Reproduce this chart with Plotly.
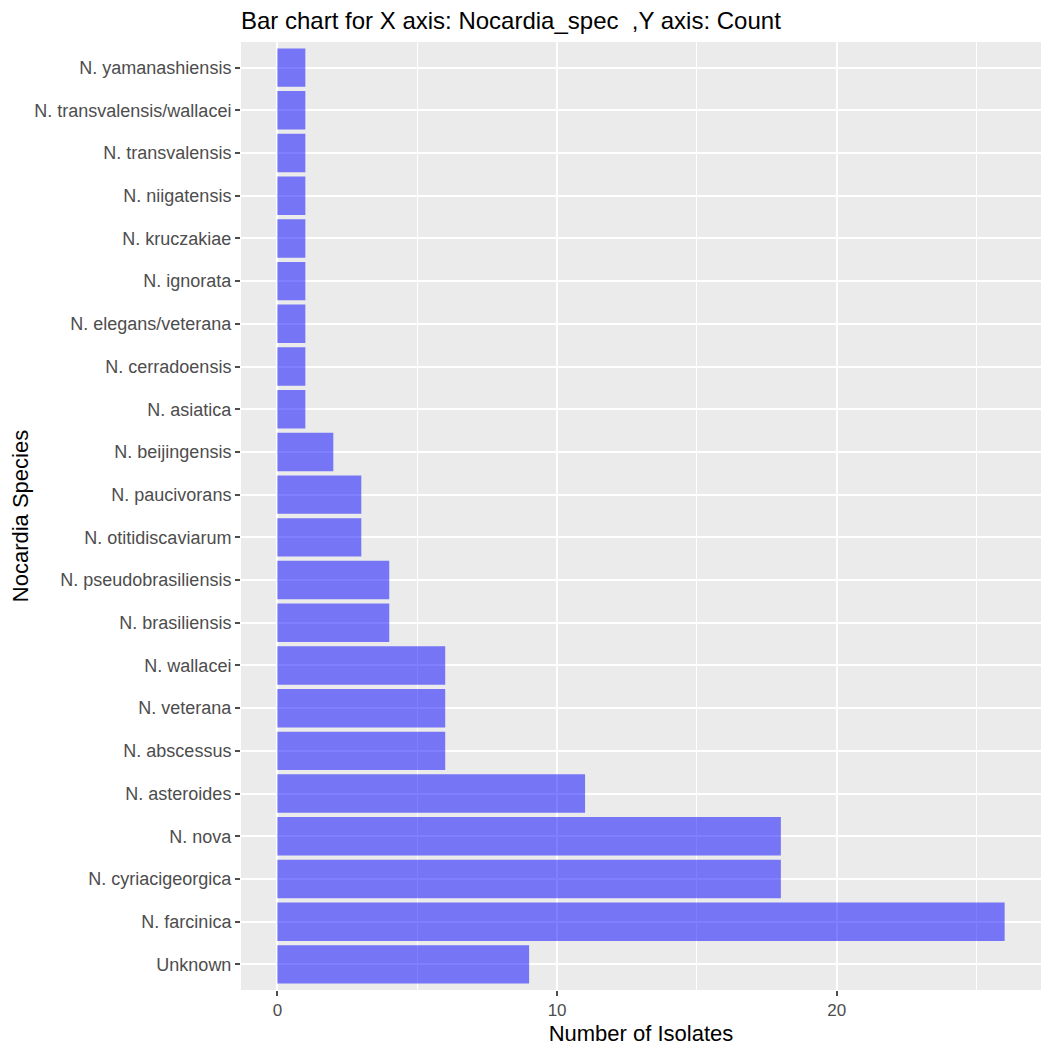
import plotly.graph_objects as go

species = ["Unknown", "N. farcinica", "N. cyriacigeorgica", "N. nova", "N. asteroides",
           "N. abscessus", "N. veterana", "N. wallacei", "N. brasiliensis",
           "N. pseudobrasiliensis", "N. otitidiscaviarum", "N. paucivorans",
           "N. beijingensis", "N. asiatica", "N. cerradoensis", "N. elegans/veterana",
           "N. ignorata", "N. kruczakiae", "N. niigatensis", "N. transvalensis",
           "N. transvalensis/wallacei", "N. yamanashiensis"]
counts = [9, 26, 18, 18, 11, 6, 6, 6, 4, 4, 3, 3, 2, 1, 1, 1, 1, 1, 1, 1, 1, 1]
x_ticks = [0, 10, 20]

FONT = "Liberation Sans, Arial, sans-serif"

fig = go.Figure(go.Bar(
    x=counts, y=species, orientation="h", width=0.9,
    marker=dict(color="rgba(0,0,255,0.5)", line=dict(width=0)),
))

fig.update_layout(
    width=1050, height=1050,
    margin=dict(l=233, r=17, t=34, b=68),
    paper_bgcolor="white", plot_bgcolor="#EBEBEB",
    font=dict(family=FONT, color="#4D4D4D", size=17),
    title=dict(text="Bar chart for X axis: Nocardia_spec  ,Y axis: Count",
               x=0, xref="paper", xanchor="left", y=1 - 13 / 1050, yref="container",
               yanchor="middle", font=dict(size=24, color="black", family=FONT)),
    showlegend=False,
)

fig.update_xaxes(
    range=[-1.3, 27.3], tickvals=x_ticks, showgrid=True, gridcolor="white", gridwidth=2,
    minor=dict(dtick=5, tick0=0, showgrid=True, gridcolor="white", gridwidth=1),
    zeroline=False, ticks="outside", ticklen=5, tickcolor="#4D4D4D", tickwidth=1.5,
    tickfont=dict(size=17, color="#4D4D4D"),
    title=dict(text="Number of Isolates", font=dict(size=22, color="black"), standoff=6),
    showline=False, automargin=False,
)
fig.update_yaxes(
    categoryorder="array", categoryarray=species, range=[-0.6, 21.6],
    showgrid=True, gridcolor="white", gridwidth=2,
    ticks="outside", ticklen=5, tickcolor="#4D4D4D", tickwidth=1.5,
    tickfont=dict(size=18, color="#4D4D4D"),
    title=dict(text="Nocardia Species", font=dict(size=22, color="black"), standoff=4),
    showline=False, automargin=False,
)

fig.write_html("out.html")
